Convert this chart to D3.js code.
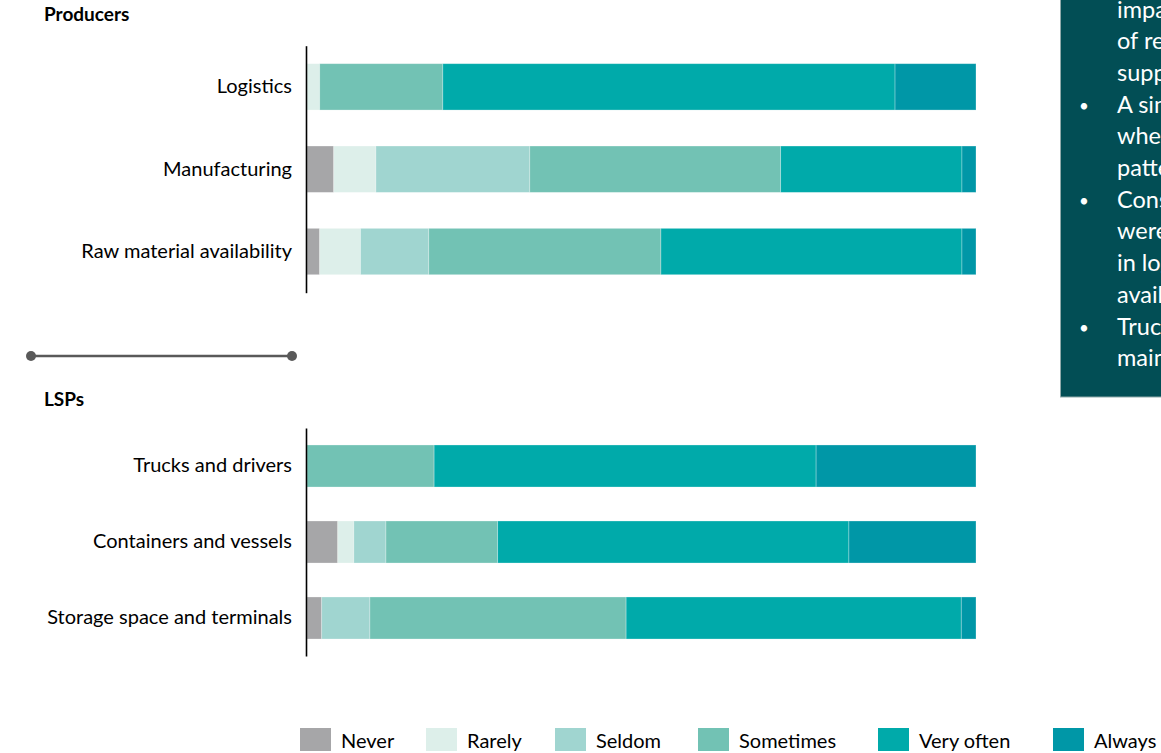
<!DOCTYPE html>
<html>
<head>
<meta charset="utf-8">
<script src="https://cdn.jsdelivr.net/npm/d3@7"></script>
<style>
  html, body { margin: 0; padding: 0; background: #fff; overflow: hidden; }
  svg { display: block; }
  text { font-family: Lato, "Open Sans", sans-serif; }
</style>
</head>
<body>
<svg id="chart" width="1161" height="753"></svg>
<script>
// ---- data ----
const producerCategories = ["Logistics", "Manufacturing", "Raw material availability"];
const lspCategories = ["Trucks and drivers", "Containers and vessels", "Storage space and terminals"];
const levels = ["Never", "Rarely", "Seldom", "Sometimes", "Very often", "Always"];
// values in %, order: Logistics, Manufacturing, Raw material, Trucks, Containers, Storage
const never     = [0,    4.0,  1.9,  0,    4.6,  2.2];
const rarely    = [1.9,  6.3,  6.1,  0,    2.4,  0];
const seldom    = [0,   23.0, 10.2,  0,    4.8,  7.2];
const sometimes = [18.4, 37.5, 34.7, 19.0, 16.7, 38.3];
const veryOften = [67.6, 27.1, 45.0, 57.1, 52.5, 50.1];
const always    = [12.1,  2.1,  2.1, 23.9, 19.0,  2.2];
const panelLines = ["impacted by", "of reduced", "supply", "A similar", "when", "patterns",
  "Constraints", "were", "in logistics", "availability", "Trucks", "mainly"];
const panelBullets = [3, 6, 10];

const colors = ["#a6a6a8", "#ddefea", "#a0d5d0", "#72c2b4", "#00aaaa", "#0097a7"];
const seriesValues = [never, rarely, seldom, sometimes, veryOften, always];

const svg = d3.select("#chart");
const allCats = producerCategories.concat(lspCategories);
const table = allCats.map((c, i) => {
  const row = { category: c };
  levels.forEach((l, j) => row[l] = seriesValues[j][i]);
  return row;
});
const stacked = d3.stack().keys(levels)(table);

const x = d3.scaleLinear().domain([0, 100]).range([307, 976]);

function section(cats, y0, y1, pad) {
  const y = d3.scaleBand().domain(cats).range([y0, y1]).paddingInner(pad).paddingOuter(pad / 2);
  const g = svg.append("g");
  stacked.forEach((s, j) => {
    g.selectAll(null)
      .data(s.filter(d => cats.includes(d.data.category)))
      .join("rect")
      .attr("x", d => x(d[0]))
      .attr("width", d => Math.max(0, x(d[1]) - x(d[0])))
      .attr("y", d => y(d.data.category))
      .attr("height", y.bandwidth())
      .attr("fill", colors[j])
      .attr("stroke", d => (d[1] - d[0]) > 0 ? "rgba(255,255,255,0.35)" : "none")
      .attr("stroke-width", 0.8);
  });
  const axis = d3.axisLeft(y).tickSize(0).tickPadding(14);
  const ag = svg.append("g").attr("transform", "translate(306,0)").call(axis);
  ag.select(".domain").attr("stroke", "#000").attr("stroke-width", 1.6);
  ag.selectAll("text").attr("font-size", 20).attr("fill", "#000")
    .attr("font-family", "Lato, 'Open Sans', sans-serif");
}

section(producerCategories, 45.7, 292.7, 0.437);
section(lspCategories, 428, 656, 0.447);

// section titles
svg.append("text").attr("x", 44).attr("y", 21).text("Producers")
  .attr("font-size", 19).attr("font-weight", "bold").attr("fill", "#000");
svg.append("text").attr("x", 44).attr("y", 406).text("LSPs")
  .attr("font-size", 19).attr("font-weight", "bold").attr("fill", "#000");

// separator
svg.append("line").attr("x1", 31).attr("x2", 292).attr("y1", 356).attr("y2", 356)
  .attr("stroke", "#595959").attr("stroke-width", 2.5);
[31, 292].forEach(cx => svg.append("circle").attr("cx", cx).attr("cy", 356).attr("r", 5).attr("fill", "#595959"));

// legend
const legendX = [300, 426, 555, 698, 878, 1053];
const lg = svg.append("g");
levels.forEach((l, i) => {
  lg.append("rect").attr("x", legendX[i]).attr("y", 728).attr("width", 31).attr("height", 23).attr("fill", colors[i]);
  lg.append("text").attr("x", legendX[i] + 41).attr("y", 748).text(l)
    .attr("font-size", 20).attr("fill", "#000");
});

// right panel
svg.append("rect").attr("x", 1060.5).attr("y", -5).attr("width", 120).attr("height", 402)
  .attr("fill", "#024e55").attr("stroke", "#8fa9aa").attr("stroke-width", 1);
panelLines.forEach((t, i) => {
  const yy = 17.5 + 31.7 * i;
  svg.append("text").attr("x", 1117).attr("y", yy).text(t)
    .attr("font-size", 23.5).attr("fill", "#fff");
  if (panelBullets.includes(i)) {
    svg.append("text").attr("x", 1084).attr("y", yy - 1).text("•")
      .attr("text-anchor", "middle").attr("font-size", 17).attr("fill", "#fff");
  }
});
</script>
</body>
</html>
